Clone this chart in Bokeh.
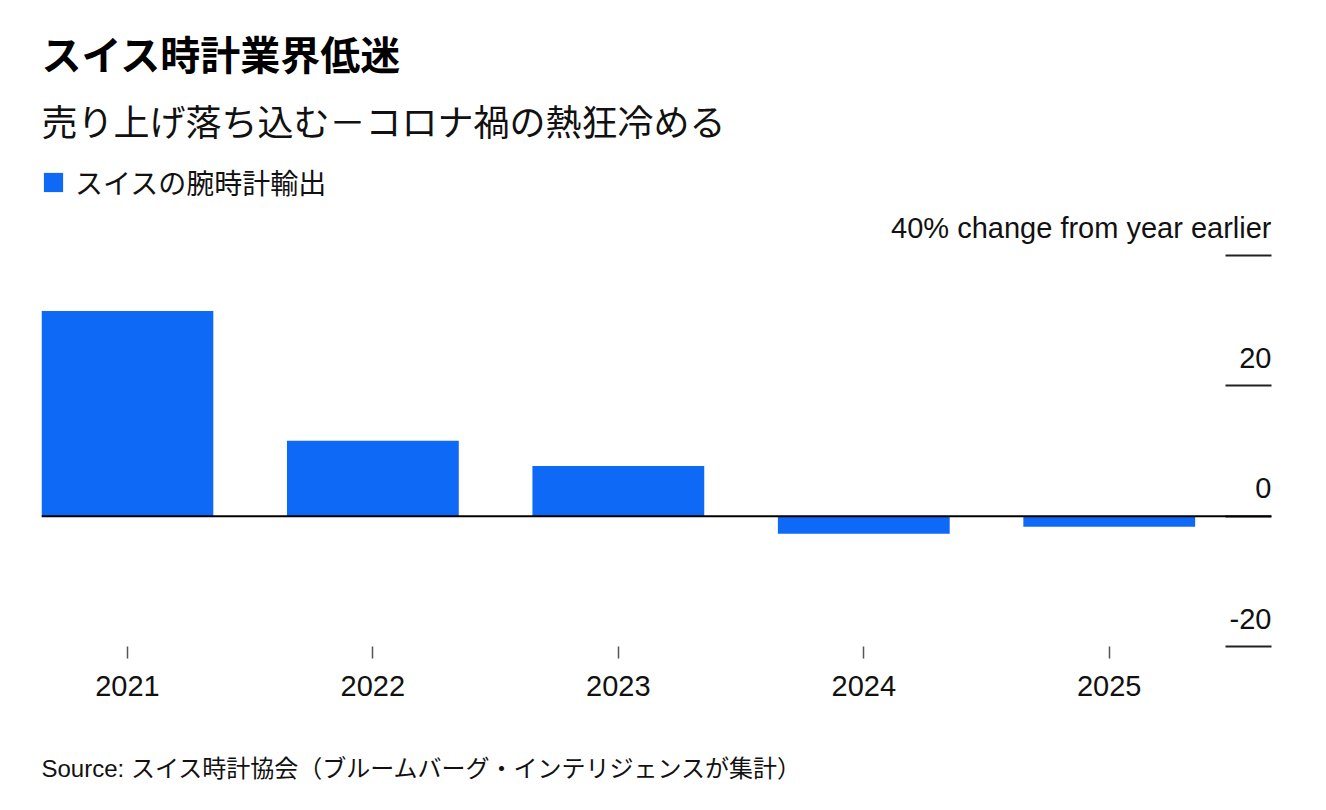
from bokeh.plotting import figure
from bokeh.models import (Range1d, FixedTicker, Span, Title, Legend, LegendItem,
                          ColumnDataSource, LinearAxis)
from bokeh.core.properties import value
from bokeh.embed import file_html
from bokeh.resources import INLINE

# ---- data ----
years = [2021, 2022, 2023, 2024, 2025]
year_labels = ["2021", "2022", "2023", "2024", "2025"]
change = [31.5, 11.6, 7.7, -2.7, -1.6]
y_ticks = [40, 20, 0, -20]
y_tick_labels = ["40% change from year earlier", "20", "0", "-20"]

title_text = "スイス時計業界低迷"
subtitle_text = "売り上げ落ち込む－コロナ禍の熱狂冷める"
legend_text = "スイスの腕時計輸出"
source_text = "Source: スイス時計協会（ブルームバーグ・インテリジェンスが集計）"

JP = "Noto Sans CJK JP"
LAT = "Liberation Sans"
BLUE = "#0f69f7"

p = figure(width=1310, height=808, output_backend="svg", toolbar_location=None,
           x_range=Range1d(2020.65, 2025.661), y_range=Range1d(-20, 54.3),
           y_axis_location=None, title=None,
           min_border_left=41, min_border_right=39, min_border_top=162,
           min_border_bottom=162)
p.outline_line_color = None
p.grid.grid_line_color = None
p.background_fill_color = "white"
p.border_fill_color = "white"

src = ColumnDataSource(dict(x=years, top=change))
bars = p.vbar(x="x", top="top", bottom=0, width=0.70, source=src,
              fill_color=BLUE, line_color=None)

# zero line
p.add_layout(Span(location=0, dimension="width", line_color="black", line_width=2))

# right axis: only inward ticks
ra = LinearAxis(ticker=FixedTicker(ticks=y_ticks))
ra.axis_line_color = None
ra.major_tick_in = 46
ra.major_tick_out = 0
ra.major_tick_line_color = "#222222"
ra.major_tick_line_width = 2
ra.minor_tick_line_color = None
ra.major_label_overrides = {t: "" for t in y_ticks}
ra.major_label_standoff = 0
p.add_layout(ra, "right")

# y tick labels above the tick lines
lab_src = ColumnDataSource(dict(x=[2025.661] * len(y_ticks), y=y_ticks, t=y_tick_labels))
p.text(x="x", y="y", text="t", source=lab_src, text_align="right",
       text_baseline="alphabetic", y_offset=-28, x_offset=0,
       text_font=value(LAT), text_font_size="29px", text_color="#111111")

# bottom axis
xa = p.xaxis[0]
xa.ticker = FixedTicker(ticks=years)
xa.major_label_overrides = {y: l for y, l in zip(years, year_labels)}
xa.axis_line_color = None
xa.major_tick_in = 0
xa.major_tick_out = 12
xa.major_tick_line_color = "#555555"
xa.major_tick_line_width = 1.5
xa.minor_tick_line_color = None
xa.major_label_standoff = 17
xa.major_label_text_font = LAT
xa.major_label_text_font_size = "29px"
xa.major_label_text_color = "#111111"


def spacer(px):
    ax = LinearAxis(ticker=FixedTicker(ticks=[years[2]]))
    ax.axis_line_color = None
    ax.major_tick_in = 0
    ax.major_tick_out = px
    ax.major_tick_line_color = None
    ax.minor_tick_line_color = None
    ax.major_label_overrides = {years[2]: ""}
    ax.major_label_standoff = 0
    return ax


# legend inside top-left
legend = Legend(items=[LegendItem(label=legend_text, renderers=[bars])],
                location="top_left", border_line_color=None,
                background_fill_alpha=0, margin=0, padding=5,
                glyph_width=24, glyph_height=24, label_standoff=10,
                label_text_font=JP, label_text_font_size="28px",
                label_text_color="#111111")
p.add_layout(legend)

# titles (first added is closest to plot)
p.add_layout(spacer(12), "above")
p.add_layout(Title(text=subtitle_text, align="left", text_font=JP,
                   text_font_size="36px", text_font_style="normal",
                   text_color="#111111", standoff=10, vertical_align="bottom"), "above")
p.add_layout(Title(text=title_text, align="left", text_font=JP,
                   text_font_size="40px", text_font_style="bold",
                   text_color="#000000", standoff=10, vertical_align="bottom"), "above")

p.add_layout(spacer(54), "below")
p.add_layout(Title(text=source_text, align="left", text_font=f"{LAT}, {JP}",
                   text_font_size="24px", text_font_style="normal",
                   text_color="#111111", standoff=5, vertical_align="top"), "below")

open("out.html", "w").write(file_html(p, INLINE))
